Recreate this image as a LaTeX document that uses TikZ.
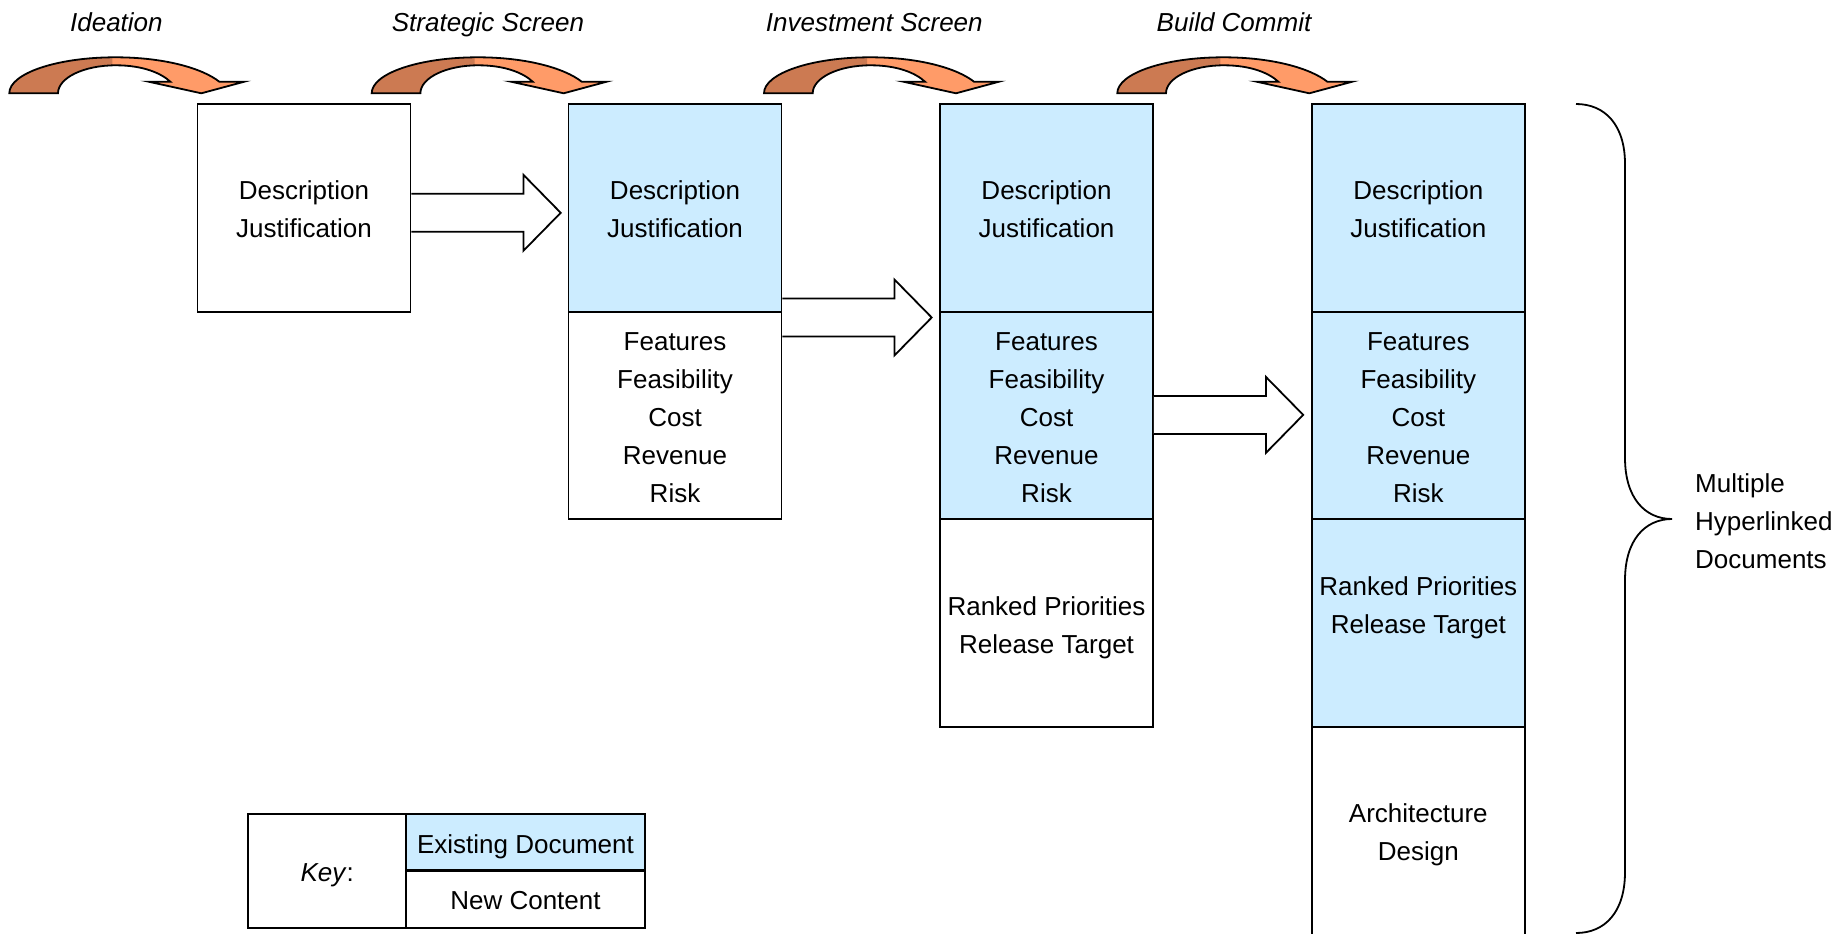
\documentclass[tikz,border=0pt]{standalone}
\usepackage{fontspec}
\setmainfont{Liberation Sans}
\usetikzlibrary{calc}
\definecolor{exblue}{RGB}{204,236,255}
\definecolor{arrdark}{RGB}{204,122,82}
\definecolor{arrlight}{RGB}{255,155,104}
\newcommand\mytopstrut{\rule{0pt}{28pt}}
\newcommand\mybotstrut{\rule[-6pt]{0pt}{6pt}}
\begin{document}
\begin{tikzpicture}[x=1pt,y=-1pt,
  txtfont/.style={font={\fontsize{26}{38}\selectfont}},
  sec/.style={draw, line width=1.8pt, minimum width=213pt, minimum height=207.6pt,
    align=center, inner sep=0pt, txtfont},
  oldsec/.style={sec, fill=exblue},
  newsec/.style={sec, fill=white},
  lbl/.style={anchor=base, txtfont, font={\fontsize{26}{38}\selectfont\itshape}},
  curvshape/.style={insert path={(0,0) .. controls (0,-19.9) and (47.5,-36) .. (106,-36)
     .. controls (155,-36) and (193,-25) .. (210,-11.6)
     -- (235,-11.6) -- (192,0) -- (139.3,-11.6) -- (161,-11.6)
     .. controls (152,-20) and (134,-28) .. (106.5,-28)
     .. controls (74.5,-28) and (48.7,-15.5) .. (48.7,0) -- cycle}},
  curvarr/.pic={
    \fill[arrlight, curvshape];
    \begin{scope}
      \clip (-5,-45) rectangle (103,5);
      \fill[arrdark, curvshape];
    \end{scope}
    \draw[line width=1.8pt, line join=miter, curvshape];
  },
  blockarr/.pic={
    \draw[line width=1.8pt, fill=white, line join=miter, miter limit=10]
      (0,-19) -- (112,-19) -- (112,-38) -- (149.3,0) -- (112,38) -- (112,19) -- (0,19);
  }
]
\useasboundingbox (0,0) rectangle (1844,934);

% column 1
\node[newsec] (c1a) at (304,207.8) {\mytopstrut Description\\Justification\mybotstrut};
% column 2
\node[oldsec] (c2a) at (675,207.8) {\mytopstrut Description\\Justification\mybotstrut};
\node[newsec] (c2b) at (675,415.4) {\mytopstrut Features\\Feasibility\\Cost\\Revenue\\Risk\mybotstrut};
% column 3
\node[oldsec] (c3a) at (1046.5,207.8) {\mytopstrut Description\\Justification\mybotstrut};
\node[oldsec] (c3b) at (1046.5,415.4) {\mytopstrut Features\\Feasibility\\Cost\\Revenue\\Risk\mybotstrut};
\node[newsec] (c3c) at (1046.5,623.0) {\mytopstrut Ranked Priorities\\Release Target\mybotstrut};
% column 4
\node[oldsec] (c4a) at (1418.3,207.8) {\mytopstrut Description\\Justification\mybotstrut};
\node[oldsec] (c4b) at (1418.3,415.4) {\mytopstrut Features\\Feasibility\\Cost\\Revenue\\Risk\mybotstrut};
\node[oldsec] (c4c) at (1418.3,623.0) {};
\node[align=center, txtfont, inner sep=0pt] (c4ct) at ($(c4c.center)+(0,-19.5)$) {\mytopstrut Ranked Priorities\\Release Target\mybotstrut};
\node[newsec, minimum height=213.2pt] (c4d) at (1418.3,833.4) {\mytopstrut Architecture\\Design\rule[-12pt]{0pt}{12pt}};

% block arrows
\pic at ($(c1a.east)+(0,5)$) {blockarr};
\pic at ($(c2a.south east)+(0,5)$) {blockarr};
\pic at ($(c3b.east)+(0,-0.5)$) {blockarr};

% curved arrows and stage labels
\pic at (9.3,93.3) {curvarr};
\pic at (371.7,93.3) {curvarr};
\pic at (764,93.3) {curvarr};
\pic at (1117.3,93.3) {curvarr};
\node[lbl] (s1) at (116.4,31.7) {Ideation};
\node[lbl] (s2) at (488,31.7) {Strategic Screen};
\node[lbl] (s3) at (874.3,31.7) {Investment Screen};
\node[lbl] (s4) at (1234,31.7) {Build Commit};

% brace
\draw[line width=1.8pt] (1576,104) .. controls (1605,104) and (1625,125) .. (1625,164)
  -- (1625,458) .. controls (1625,498) and (1645,519) .. (1672,519)
  .. controls (1645,519) and (1625,540) .. (1625,580)
  -- (1625,872) .. controls (1625,912) and (1605,933) .. (1576,933);
\node[anchor=west, align=left, txtfont, inner sep=0pt] (bt) at (1695,519.5) {\mytopstrut Multiple\\Hyperlinked\\Documents\mybotstrut};

% key
\node[newsec, minimum width=157.7pt, minimum height=113.7pt] (key) at (327.2,870.9) {\mytopstrut\textit{Key}:\mybotstrut};
\node[newsec, minimum width=239pt, minimum height=57.7pt] (knew) at (525.5,898.85) {\mytopstrut New Content\mybotstrut};
\node[oldsec, minimum width=239pt, minimum height=56pt] (kex) at (525.5,842) {\mytopstrut Existing Document\mybotstrut};
\draw[line width=2.6pt] (kex.south west) -- (kex.south east);
\end{tikzpicture}
\end{document}
